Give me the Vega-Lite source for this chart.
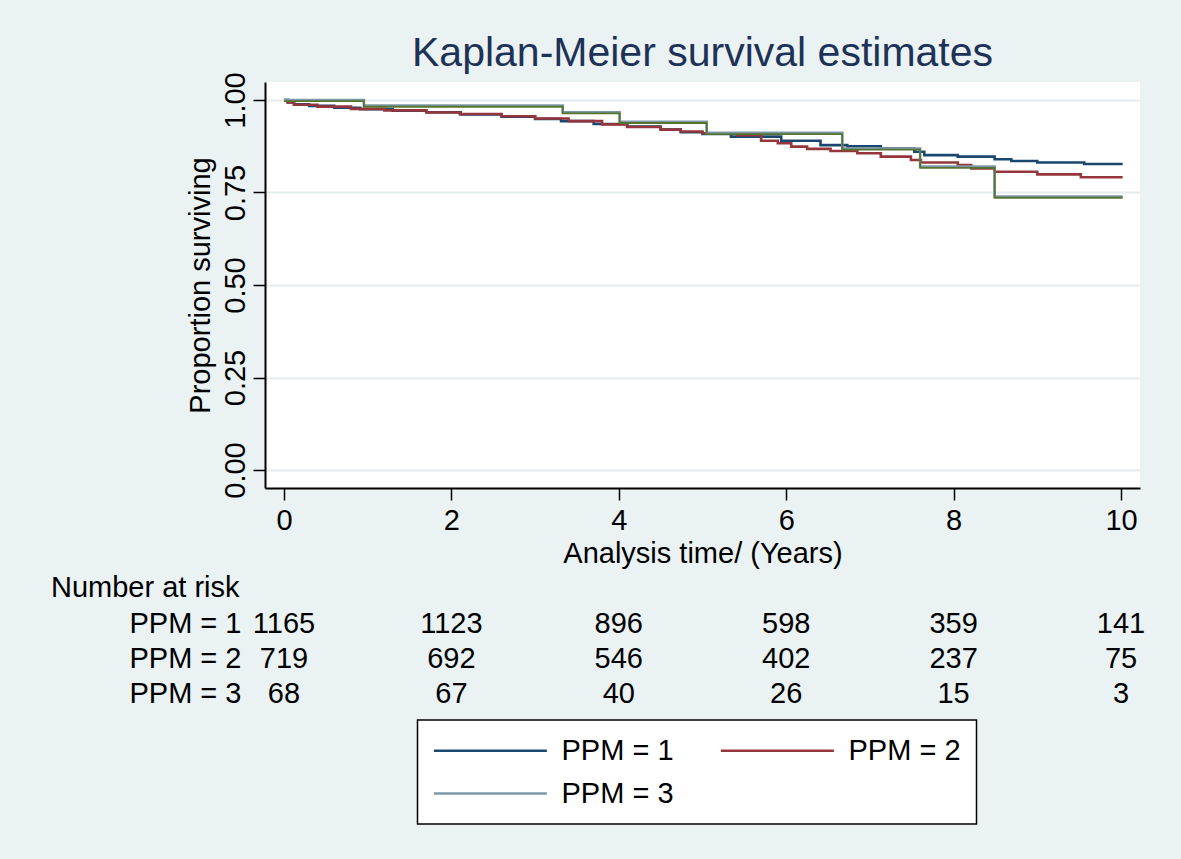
{
  "$schema": "https://vega.github.io/schema/vega-lite/v6.json",
  "background": "#EAF2F3",
  "padding": {"left": 50, "top": 32, "right": 35, "bottom": 35},
  "spacing": 5,
  "config": {
    "font": "Liberation Sans",
    "view": {"stroke": null},
    "legend": {
      "orient": "none",
      "legendX": 152.5,
      "legendY": 638,
      "title": null,
      "direction": "horizontal",
      "columns": 2,
      "symbolType": "M-1,0H7",
      "symbolSize": 798,
      "symbolStrokeWidth": 2.5,
      "labelFontSize": 29,
      "labelColor": "black",
      "labelOffset": 98,
      "columnPadding": 41,
      "rowPadding": 12,
      "padding": 15,
      "fillColor": "white",
      "strokeColor": "black",
      "strokeWidth": 1.5,
      "labelLimit": 300
    }
  },
  "datasets": {
    "km": [
      {"group": "PPM = 1", "time": 0, "surv": 1.0},
      {"group": "PPM = 1", "time": 0.05, "surv": 0.993},
      {"group": "PPM = 1", "time": 0.12, "surv": 0.988},
      {"group": "PPM = 1", "time": 0.3, "surv": 0.984},
      {"group": "PPM = 1", "time": 0.6, "surv": 0.979},
      {"group": "PPM = 1", "time": 0.91, "surv": 0.975},
      {"group": "PPM = 1", "time": 1.3, "surv": 0.971},
      {"group": "PPM = 1", "time": 1.7, "surv": 0.967},
      {"group": "PPM = 1", "time": 2.11, "surv": 0.961},
      {"group": "PPM = 1", "time": 2.6, "surv": 0.955},
      {"group": "PPM = 1", "time": 3.0, "surv": 0.949},
      {"group": "PPM = 1", "time": 3.31, "surv": 0.943},
      {"group": "PPM = 1", "time": 3.7, "surv": 0.935},
      {"group": "PPM = 1", "time": 4.1, "surv": 0.928},
      {"group": "PPM = 1", "time": 4.5, "surv": 0.92},
      {"group": "PPM = 1", "time": 4.74, "surv": 0.913},
      {"group": "PPM = 1", "time": 5.0, "surv": 0.908},
      {"group": "PPM = 1", "time": 5.34, "surv": 0.901},
      {"group": "PPM = 1", "time": 5.94, "surv": 0.89},
      {"group": "PPM = 1", "time": 6.41, "surv": 0.878},
      {"group": "PPM = 1", "time": 6.73, "surv": 0.875},
      {"group": "PPM = 1", "time": 7.13, "surv": 0.869},
      {"group": "PPM = 1", "time": 7.53, "surv": 0.86},
      {"group": "PPM = 1", "time": 7.65, "surv": 0.851},
      {"group": "PPM = 1", "time": 8.05, "surv": 0.847},
      {"group": "PPM = 1", "time": 8.49, "surv": 0.84},
      {"group": "PPM = 1", "time": 8.69, "surv": 0.835},
      {"group": "PPM = 1", "time": 9.0, "surv": 0.831},
      {"group": "PPM = 1", "time": 9.56, "surv": 0.827},
      {"group": "PPM = 1", "time": 10.02, "surv": 0.827},
      {"group": "PPM = 2", "time": 0, "surv": 1.0},
      {"group": "PPM = 2", "time": 0.04, "surv": 0.994},
      {"group": "PPM = 2", "time": 0.12, "surv": 0.987},
      {"group": "PPM = 2", "time": 0.4, "surv": 0.982},
      {"group": "PPM = 2", "time": 0.8, "surv": 0.976},
      {"group": "PPM = 2", "time": 1.2, "surv": 0.972},
      {"group": "PPM = 2", "time": 1.7, "surv": 0.966},
      {"group": "PPM = 2", "time": 2.1, "surv": 0.962},
      {"group": "PPM = 2", "time": 2.6, "surv": 0.956},
      {"group": "PPM = 2", "time": 3.0, "surv": 0.95},
      {"group": "PPM = 2", "time": 3.4, "surv": 0.943},
      {"group": "PPM = 2", "time": 3.8, "surv": 0.934},
      {"group": "PPM = 2", "time": 4.1, "surv": 0.927},
      {"group": "PPM = 2", "time": 4.5, "surv": 0.92},
      {"group": "PPM = 2", "time": 4.74, "surv": 0.915},
      {"group": "PPM = 2", "time": 5.0, "surv": 0.91},
      {"group": "PPM = 2", "time": 5.42, "surv": 0.905},
      {"group": "PPM = 2", "time": 5.7, "surv": 0.89},
      {"group": "PPM = 2", "time": 5.9, "surv": 0.883},
      {"group": "PPM = 2", "time": 6.06, "surv": 0.874},
      {"group": "PPM = 2", "time": 6.25, "surv": 0.868},
      {"group": "PPM = 2", "time": 6.53, "surv": 0.862},
      {"group": "PPM = 2", "time": 6.85, "surv": 0.856},
      {"group": "PPM = 2", "time": 7.13, "surv": 0.847},
      {"group": "PPM = 2", "time": 7.49, "surv": 0.838},
      {"group": "PPM = 2", "time": 7.61, "surv": 0.831},
      {"group": "PPM = 2", "time": 8.05, "surv": 0.824},
      {"group": "PPM = 2", "time": 8.21, "surv": 0.815},
      {"group": "PPM = 2", "time": 8.49, "surv": 0.806},
      {"group": "PPM = 2", "time": 9.0, "surv": 0.799},
      {"group": "PPM = 2", "time": 9.52, "surv": 0.791},
      {"group": "PPM = 2", "time": 10.02, "surv": 0.791},
      {"group": "PPM = 3", "time": 0, "surv": 1.0},
      {"group": "PPM = 3", "time": 0.954, "surv": 0.985},
      {"group": "PPM = 3", "time": 3.33, "surv": 0.967},
      {"group": "PPM = 3", "time": 4.01, "surv": 0.941},
      {"group": "PPM = 3", "time": 5.05, "surv": 0.911},
      {"group": "PPM = 3", "time": 6.67, "surv": 0.869},
      {"group": "PPM = 3", "time": 7.6, "surv": 0.82},
      {"group": "PPM = 3", "time": 8.49, "surv": 0.739},
      {"group": "PPM = 3", "time": 10.02, "surv": 0.739}
    ],
    "risk": [
      {"group": "PPM = 1", "time": 0, "n": 1165},
      {"group": "PPM = 1", "time": 2, "n": 1123},
      {"group": "PPM = 1", "time": 4, "n": 896},
      {"group": "PPM = 1", "time": 6, "n": 598},
      {"group": "PPM = 1", "time": 8, "n": 359},
      {"group": "PPM = 1", "time": 10, "n": 141},
      {"group": "PPM = 2", "time": 0, "n": 719},
      {"group": "PPM = 2", "time": 2, "n": 692},
      {"group": "PPM = 2", "time": 4, "n": 546},
      {"group": "PPM = 2", "time": 6, "n": 402},
      {"group": "PPM = 2", "time": 8, "n": 237},
      {"group": "PPM = 2", "time": 10, "n": 75},
      {"group": "PPM = 3", "time": 0, "n": 68},
      {"group": "PPM = 3", "time": 2, "n": 67},
      {"group": "PPM = 3", "time": 4, "n": 40},
      {"group": "PPM = 3", "time": 6, "n": 26},
      {"group": "PPM = 3", "time": 8, "n": 15},
      {"group": "PPM = 3", "time": 10, "n": 3}
    ]
  },
  "vconcat": [
    {
      "width": 875,
      "height": 406,
      "view": {"fill": "white", "stroke": null},
      "title": {
        "text": "Kaplan-Meier survival estimates",
        "fontSize": 41,
        "fontWeight": "normal",
        "color": "#1E3257",
        "anchor": "middle",
        "frame": "group",
        "baseline": "alphabetic",
        "offset": -35
      },
      "layer": [
        {
          "data": {"name": "km"},
          "mark": {"type": "line", "interpolate": "step-after", "strokeWidth": 2.6},
          "encoding": {
            "x": {
              "field": "time", "type": "quantitative",
              "scale": {"domain": [-0.227, 10.227], "nice": false, "zero": false},
              "axis": {
                "values": [0, 2, 4, 6, 8, 10],
                "format": "d",
                "title": "Analysis time/ (Years)",
                "grid": false,
                "domainColor": "black", "domainWidth": 2,
                "tickColor": "black", "tickWidth": 1.5, "tickSize": 12,
                "labelFontSize": 29, "labelColor": "black", "labelPadding": 6,
                "labelFlush": false,
                "titleFontSize": 29, "titleFontWeight": "normal", "titleColor": "black", "titlePadding": 4
              }
            },
            "y": {
              "field": "surv", "type": "quantitative",
              "scale": {"domain": [-0.0486, 1.0486], "nice": false, "zero": false},
              "axis": {
                "values": [0, 0.25, 0.5, 0.75, 1],
                "format": ".2f",
                "title": "Proportion surviving",
                "grid": true, "gridColor": "#E3ECEE", "gridWidth": 2,
                "domainColor": "black", "domainWidth": 2,
                "tickColor": "black", "tickWidth": 1.5, "tickSize": 12,
                "labelAngle": -90, "labelAlign": "center", "labelBaseline": "alphabetic",
                "labelFontSize": 29, "labelColor": "black", "labelPadding": 9,
                "labelFlush": false,
                "titleFontSize": 29, "titleFontWeight": "normal", "titleColor": "black", "titlePadding": 6
              }
            },
            "color": {
              "field": "group", "type": "nominal",
              "scale": {"domain": ["PPM = 1", "PPM = 2", "PPM = 3"], "range": ["#1A476F", "#95363C", "#7E98AB"]}
            }
          }
        },
        {
          "data": {"name": "km"},
          "transform": [{"filter": "datum.group === 'PPM = 3'"}],
          "mark": {"type": "line", "interpolate": "step-after", "strokeWidth": 1.8, "color": "#55752F", "yOffset": 1.2},
          "encoding": {
            "x": {"field": "time", "type": "quantitative"},
            "y": {"field": "surv", "type": "quantitative"}
          }
        }
      ]
    },
    {
      "width": 875,
      "height": 105,
      "view": {"fill": null, "stroke": null},
      "data": {"name": "risk"},
      "mark": {"type": "text", "fontSize": 29, "color": "black", "baseline": "middle"},
      "encoding": {
        "x": {
          "field": "time", "type": "quantitative",
          "scale": {"domain": [-0.227, 10.227], "nice": false, "zero": false},
          "axis": null
        },
        "y": {
          "field": "group", "type": "nominal",
          "sort": ["PPM = 1", "PPM = 2", "PPM = 3"],
          "axis": {
            "title": "Number at risk",
            "titleAngle": 0, "titleAlign": "left", "titleBaseline": "middle",
            "titleX": -214.5, "titleY": -18.5,
            "titleFontSize": 29, "titleFontWeight": "normal", "titleColor": "black",
            "ticks": false, "domain": false, "grid": false,
            "labelFontSize": 29, "labelColor": "black", "labelPadding": 24, "labelAlign": "right"
          }
        },
        "text": {"field": "n", "type": "quantitative"}
      }
    }
  ]
}
